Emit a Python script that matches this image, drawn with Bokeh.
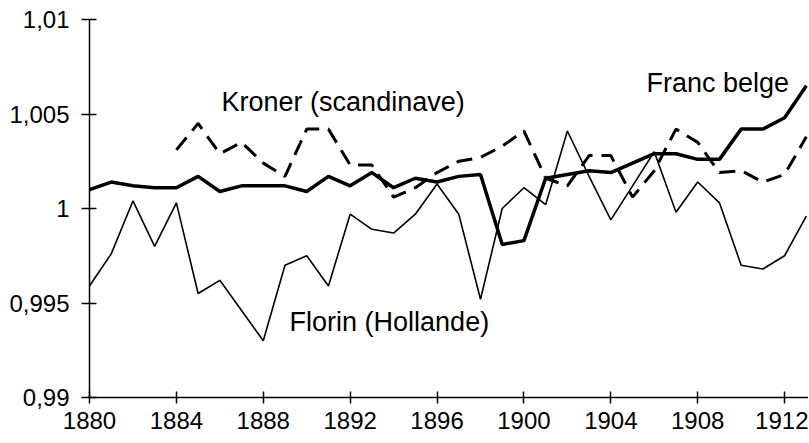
from bokeh.plotting import figure
from bokeh.models import FixedTicker, Label
from bokeh.embed import file_html
from bokeh.resources import INLINE

years = list(range(1880, 1914))
kroner_years = list(range(1884, 1914))

franc_belge = [1.0010, 1.0014, 1.0012, 1.0011, 1.0011, 1.0017, 1.0009, 1.0012, 1.0012, 1.0012,
               1.0009, 1.0017, 1.0012, 1.0019, 1.0011, 1.0016, 1.0014, 1.0017, 1.0018, 0.9981,
               0.9983, 1.0016, 1.0018, 1.0020, 1.0019, 1.0024, 1.0029, 1.0029, 1.0026, 1.0026,
               1.0042, 1.0042, 1.0048, 1.0065]

florin = [0.9959, 0.9976, 1.0004, 0.9980, 1.0003, 0.9955, 0.9962, 0.9946, 0.9930, 0.9970,
          0.9975, 0.9959, 0.9997, 0.9989, 0.9987, 0.9997, 1.0013, 0.9997, 0.9952, 1.0000,
          1.0011, 1.0002, 1.0041, 1.0017, 0.9994, 1.0012, 1.0030, 0.9998, 1.0014, 1.0003,
          0.9970, 0.9968, 0.9975, 0.9996]

kroner = [1.0031, 1.0045, 1.0029, 1.0035, 1.0024, 1.0017, 1.0042, 1.0042, 1.0023, 1.0023,
          1.0006, 1.0011, 1.0019, 1.0025, 1.0027, 1.0033, 1.0041, 1.0016, 1.0012, 1.0028,
          1.0028, 1.0006, 1.0020, 1.0042, 1.0035, 1.0019, 1.0020, 1.0014, 1.0018, 1.0038]

x_ticks = [1880, 1884, 1888, 1892, 1896, 1900, 1904, 1908, 1912]
y_ticks = [0.99, 0.995, 1.0, 1.005, 1.01]
y_tick_labels = ["0,99", "0,995", "1", "1,005", "1,01"]

FONT = "Liberation Sans"

p = figure(width=808, height=440, output_backend="svg", toolbar_location=None,
           x_range=(1880, 1913.1), y_range=(0.99, 1.01))
p.min_border_left = 89
p.min_border_right = 0
p.min_border_top = 19
p.min_border_bottom = 43
p.outline_line_color = None
p.xgrid.visible = False
p.ygrid.visible = False
p.background_fill_color = "white"
p.border_fill_color = "white"

p.xaxis.ticker = FixedTicker(ticks=x_ticks)
p.yaxis.ticker = FixedTicker(ticks=y_ticks)
p.yaxis.major_label_overrides = {t: s for t, s in zip(y_ticks, y_tick_labels)}

for ax in (p.xaxis[0], p.yaxis[0]):
    ax.axis_line_color = "black"
    ax.axis_line_width = 1.5
    ax.major_tick_line_color = "black"
    ax.major_tick_line_width = 1.5
    ax.minor_tick_line_color = None
    ax.major_label_text_font = FONT
    ax.major_label_text_font_size = "24px"
    ax.major_label_text_color = "black"

p.yaxis.major_tick_in = 7
p.yaxis.major_tick_out = 8
p.yaxis.major_label_standoff = 12
p.xaxis.major_tick_in = 6
p.xaxis.major_tick_out = 6
p.xaxis.major_label_standoff = 8

p.line(years, florin, line_color="black", line_width=1.6)
p.line(kroner_years, kroner, line_color="black", line_width=3, line_dash="16 9")
p.line(years, franc_belge, line_color="black", line_width=3.5)

for txt, x, y in [("Kroner (scandinave)", 1886.08, 1.00562),
                  ("Franc belge", 1905.64, 1.00665),
                  ("Florin (Hollande)", 1889.21, 0.9940)]:
    p.add_layout(Label(x=x, y=y, text=txt, text_font=FONT, text_font_size="27px",
                       text_color="black", text_baseline="alphabetic"))

open("out.html", "w").write(file_html(p, INLINE))
